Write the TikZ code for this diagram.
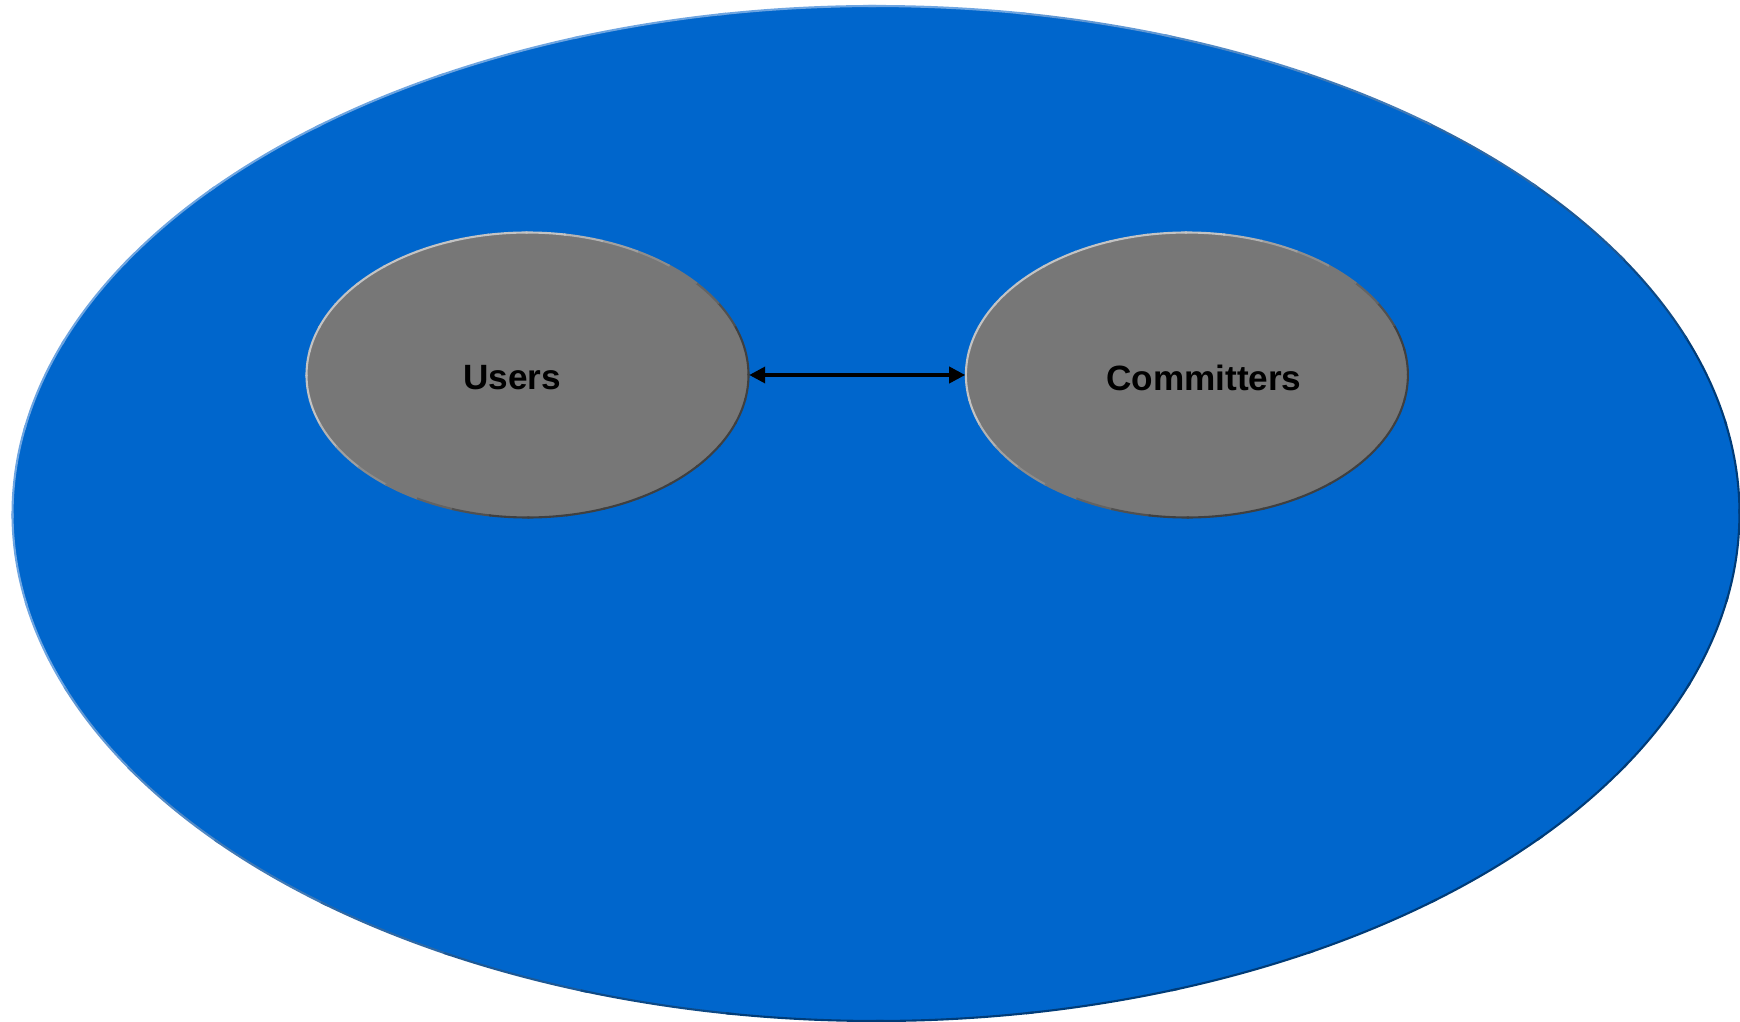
\documentclass[tikz,border=0pt]{standalone}
\usepackage{fontspec}
\setmainfont{Liberation Sans}
\usetikzlibrary{positioning, calc, shapes.geometric, arrows.meta}
\definecolor{projblue}{RGB}{0, 102, 204}
\definecolor{projlight}{RGB}{110, 165, 225}
\definecolor{projdark}{RGB}{0, 60, 120}
\definecolor{rolegray}{RGB}{119, 119, 119}
\definecolor{rimlight}{RGB}{195, 195, 195}
\definecolor{rimdark}{RGB}{64, 64, 64}

\begin{document}
\begin{tikzpicture}[
			project/.style={ellipse, fill=projblue, minimum width=17.27cm, minimum height=10.15cm, inner sep=0pt},
			role/.style={ellipse, fill=rolegray, minimum width=4.42cm, minimum height=2.85cm, inner sep=0pt},
			rolename/.style={font=\bfseries\fontsize{10}{12}\selectfont, text=black, inner sep=0pt},
			rim/.style={line width=0.6pt},
			link/.style={line width=1pt, {Triangle[length=1.6mm,width=1.6mm]}-{Triangle[length=1.6mm,width=1.6mm]}}
		]

		\useasboundingbox (0,0) rectangle (17.40,-10.22);

		\node (project) [project] at (8.76,-5.135) {};

		\node (users) [role, label={[rolename, xshift=-0.155cm, yshift=-0.03cm]center:Users}] at (5.275,-3.75) {};
		\node (committers) [role, right=2.16cm of users, label={[rolename, xshift=0.17cm, yshift=-0.03cm]center:Committers}] {};

		% bevelled rims: light upper left, dark lower right
		\foreach \n/\rx/\ry/\lc/\dc in {project/8.635/5.075/projlight/projdark, users/2.21/1.425/rimlight/rimdark, committers/2.21/1.425/rimlight/rimdark}
			\foreach \a in {0,10,...,350} {
				\pgfmathsetmacro{\mix}{min(100,max(0,50+90*cos(\a+5-140)))}
				\draw[rim, draw=\lc!\mix!\dc] ($(\n.center)+(\a:{\rx} and {\ry})$) arc[start angle=\a, end angle=\a+10.5, x radius=\rx, y radius=\ry];
			}

		\draw[link] (users.east) -- (committers.west);

	\end{tikzpicture}
\end{document}
